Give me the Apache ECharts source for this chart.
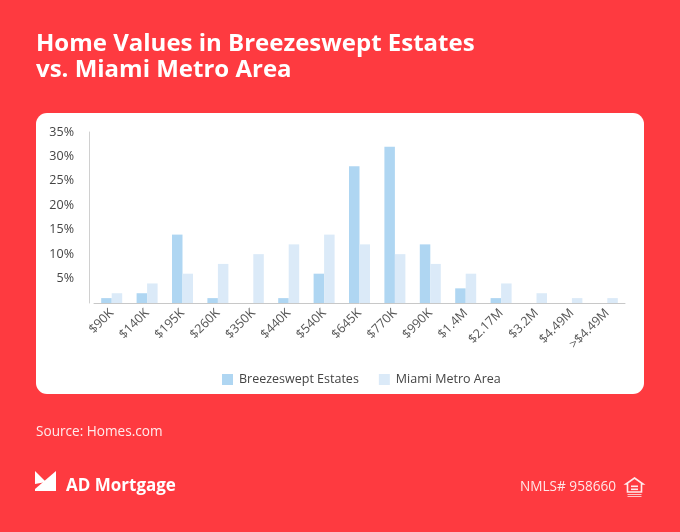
<!DOCTYPE html>
<html>
<head>
<meta charset="utf-8">
<script src="https://cdn.jsdelivr.net/npm/echarts@6/dist/echarts.min.js"></script>
<style>
  html, body { margin: 0; padding: 0; }
  #main { width: 680px; height: 532px; }
</style>
</head>
<body>
<div id="main"></div>
<script>
// data (share of homes, %)
var priceBands = ['$90K', '$140K', '$195K', '$260K', '$350K', '$440K', '$540K', '$645K',
    '$770K', '$990K', '$1.4M', '$2.17M', '$3.2M', '$4.49M', '>$4.49M'];
var breezeswept = [1, 2, 14, 1, 0, 1, 6, 28, 32, 12, 3, 1, 0, 0, 0];
var miamiMetro = [2, 4, 6, 8, 10, 12, 14, 12, 10, 8, 6, 4, 2, 1, 1];
var yTicks = [0, 5, 10, 15, 20, 25, 30, 35];

var FONT = '"Open Sans", sans-serif';
var chart = echarts.init(document.getElementById('main'));

var option = {
    backgroundColor: '#FE3A40',
    animation: false,
    graphic: [
        // white card behind the chart
        { type: 'rect', z: -10, shape: { x: 36, y: 113, width: 608, height: 281, r: 11 }, style: { fill: '#fff' } },
        { type: 'text', style: { text: 'Home Values in Breezeswept Estates', x: 36, y: 44, fill: '#fff',
            font: 'bold 24px ' + FONT, textVerticalAlign: 'middle' } },
        { type: 'text', style: { text: 'vs. Miami Metro Area', x: 36, y: 70.5, fill: '#fff',
            font: 'bold 24px ' + FONT, textVerticalAlign: 'middle' } },
        { type: 'text', style: { text: 'Source: Homes.com', x: 36, y: 432.5, fill: 'rgba(255,255,255,0.9)',
            font: '13.6px ' + FONT, textVerticalAlign: 'middle' } },
        // logo mark
        { type: 'polygon', shape: { points: [[35, 471], [46, 482], [35, 484]] }, style: { fill: '#fff' } },
        { type: 'polygon', shape: { points: [[56, 471], [56, 491], [35, 491], [35, 489]] }, style: { fill: '#fff' } },
        { type: 'text', style: { text: 'AD Mortgage', x: 66, y: 486, fill: '#fff',
            font: 'bold 17px ' + FONT, textVerticalAlign: 'middle' } },
        { type: 'text', style: { text: 'NMLS# 958660', x: 616, y: 487, fill: 'rgba(255,255,255,0.88)',
            font: '13.6px ' + FONT, textAlign: 'right', textVerticalAlign: 'middle' } },
        // equal housing icon
        { type: 'polygon', shape: { points: [[634.5, 478], [643, 484], [641.5, 484], [641.5, 492], [627.5, 492], [627.5, 484], [626, 484]] },
            style: { fill: 'none', stroke: 'rgba(255,255,255,0.9)', lineWidth: 1.6 } },
        { type: 'rect', shape: { x: 631, y: 485.5, width: 7, height: 1.6 }, style: { fill: 'rgba(255,255,255,0.9)' } },
        { type: 'rect', shape: { x: 631, y: 488.5, width: 7, height: 1.6 }, style: { fill: 'rgba(255,255,255,0.9)' } },
        { type: 'rect', shape: { x: 627.5, y: 494, width: 14, height: 1 }, style: { fill: 'rgba(255,255,255,0.7)' } },
        { type: 'rect', shape: { x: 627.5, y: 496, width: 14, height: 1 }, style: { fill: 'rgba(255,255,255,0.7)' } }
    ],
    legend: {
        left: 217,
        top: 368,
        itemWidth: 11,
        itemHeight: 11,
        itemGap: 20,
        icon: 'rect',
        textStyle: { color: '#444', fontSize: 12.5, fontFamily: FONT, padding: [0, 0, 0, 1] },
        data: ['Breezeswept Estates', 'Miami Metro Area']
    },
    grid: { left: 94, right: 55, top: 132, bottom: 229 },
    xAxis: {
        type: 'category',
        data: priceBands,
        axisLine: { lineStyle: { color: '#c8c8c8' } },
        axisTick: { show: false },
        axisLabel: { rotate: 45, margin: 8, fontSize: 12.5, color: '#555', fontFamily: FONT, interval: 0 }
    },
    yAxis: {
        type: 'value',
        min: yTicks[0],
        max: yTicks[yTicks.length - 1],
        interval: 5,
        offset: 5,
        axisLine: { show: true, lineStyle: { color: '#d0d0d0' } },
        axisTick: { show: false },
        splitLine: { show: false },
        axisLabel: {
            margin: 15, fontSize: 12.5, color: '#444', fontFamily: FONT,
            formatter: function (v) { return v === 0 ? '' : v + '%'; }
        }
    },
    series: [
        {
            name: 'Breezeswept Estates',
            type: 'bar',
            barWidth: 10.5,
            barGap: '0%',
            itemStyle: { color: '#AFD6F2' },
            data: breezeswept
        },
        {
            name: 'Miami Metro Area',
            type: 'bar',
            barWidth: 10.5,
            itemStyle: { color: '#DBEAF8' },
            data: miamiMetro
        }
    ]
};
chart.setOption(option);
</script>
</body>
</html>
